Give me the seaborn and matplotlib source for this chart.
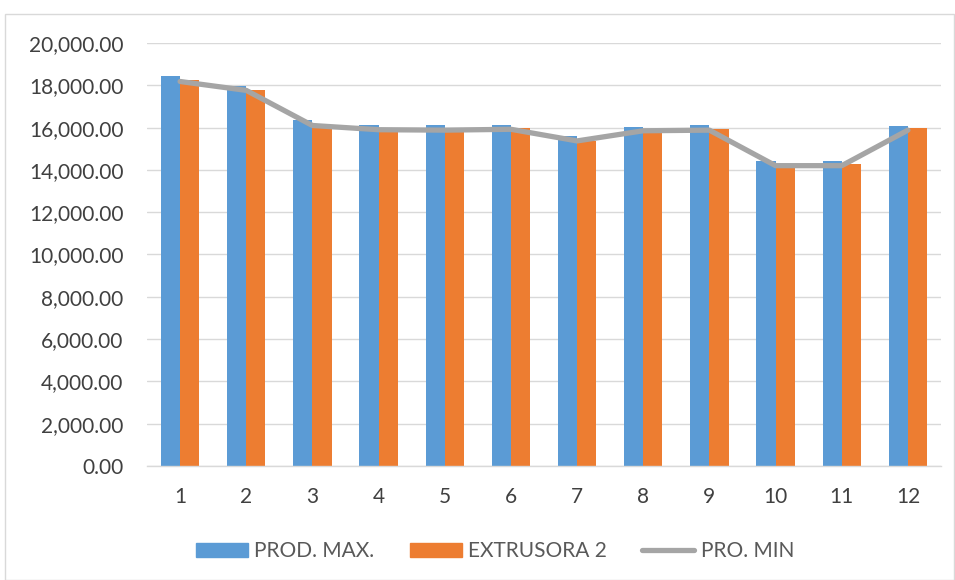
import numpy as np
import pandas as pd
import seaborn as sns
import matplotlib
matplotlib.use("Agg")
import matplotlib.pyplot as plt
from matplotlib.patches import Patch, Rectangle
from matplotlib.lines import Line2D
from matplotlib.ticker import FuncFormatter, MultipleLocator

categories = ["1", "2", "3", "4", "5", "6", "7", "8", "9", "10", "11", "12"]
prod_max = [18420, 17970, 16350, 16130, 16100, 16140, 15590, 16050, 16110, 14420, 14420, 16080]
extrusora2 = [18260, 17800, 16110, 15950, 15900, 15990, 15350, 15870, 15950, 14100, 14280, 15980]
pro_min = [18180, 17760, 16100, 15900, 15880, 15920, 15370, 15850, 15880, 14200, 14200, 15880]
series_names = ["PROD. MAX.", "EXTRUSORA 2", "PRO. MIN"]
colors = ["#5B9BD5", "#ED7D31", "#A5A5A5"]

sns.set_theme(style="white")
plt.rcParams['font.family'] = ['Lato', 'DejaVu Sans']

df = pd.DataFrame({
    "cat": categories * 2,
    "value": prod_max + extrusora2,
    "series": [series_names[0]] * 12 + [series_names[1]] * 12,
})

fig = plt.figure(figsize=(9.55, 5.8), dpi=100)
ax = fig.add_axes([147 / 955, 1 - 466 / 580, (941 - 147) / 955, (466 - 43) / 580])

sns.barplot(data=df, x="cat", y="value", hue="series", order=categories,
            hue_order=series_names[:2], palette=colors[:2], width=0.58,
            saturation=1, ax=ax, legend=False, linewidth=0, errorbar=None)
sns.lineplot(x=np.arange(len(categories)), y=pro_min, color=colors[2],
             linewidth=3.8, ax=ax, legend=False)

ax.set_xlim(-0.5, 11.5)
ax.set_ylim(0, 20000)
ax.yaxis.set_major_locator(MultipleLocator(2000))
ax.yaxis.set_major_formatter(FuncFormatter(lambda v, p: f"{v:,.2f}"))
ax.set_xlabel("")
ax.set_ylabel("")
ax.grid(axis="y", color="#D9D9D9", linewidth=1.0)
ax.set_axisbelow(True)
for s in ["top", "right", "left"]:
    ax.spines[s].set_visible(False)
ax.spines["bottom"].set_color("#D9D9D9")
ax.spines["bottom"].set_linewidth(1.0)
ax.tick_params(axis="both", length=0, labelsize=15, colors="#404040")
ax.tick_params(axis="y", pad=17)
ax.tick_params(axis="x", pad=15)

handles = [Patch(color=colors[0]), Patch(color=colors[1]),
           Line2D([0], [0], color=colors[2], linewidth=3.8, solid_capstyle="round")]
fig.legend(handles, series_names, loc="center", bbox_to_anchor=(495 / 955, 1 - 551 / 580),
           ncol=3, frameon=False, fontsize=15, labelcolor="#595959",
           handlelength=2.5, handleheight=0.67, columnspacing=1.7, handletextpad=0.3)

fig.patches.append(Rectangle((5 / 955, 0), 0.999 - 5 / 955, 1 - 14 / 580,
                             transform=fig.transFigure, fill=False,
                             edgecolor="#D9D9D9", linewidth=1.0))

fig.savefig("out.png", dpi=100)
